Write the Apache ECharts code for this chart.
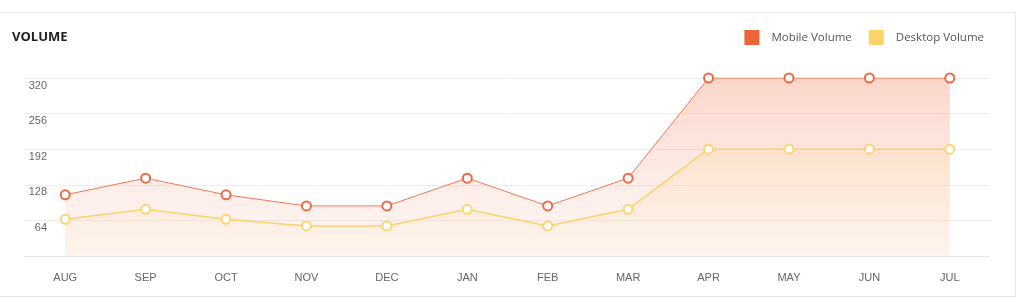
<!DOCTYPE html>
<html>
<head>
<meta charset="utf-8">
<script src="https://cdn.jsdelivr.net/npm/echarts@6/dist/echarts.min.js"></script>
<style>
html,body{margin:0;padding:0;background:#fff;}
#card{position:absolute;left:-1px;top:12px;width:1017px;height:285px;border:1px solid #e8e8e8;box-sizing:border-box;}
#chart{position:absolute;left:0;top:0;width:1024px;height:302px;}
</style>
</head>
<body>
<div id="card"></div>
<div id="chart"></div>
<script>
const categories = ['AUG','SEP','OCT','NOV','DEC','JAN','FEB','MAR','APR','MAY','JUN','JUL'];
const mobileVolume = [110, 140, 110, 90, 90, 140, 90, 140, 320, 320, 320, 320];
const desktopVolume = [66, 84, 66, 54, 54, 84, 54, 84, 192, 192, 192, 192];
const yTicks = [0, 64, 128, 192, 256, 320];
const seriesNames = ['Mobile Volume', 'Desktop Volume'];

const chart = echarts.init(document.getElementById('chart'));
chart.setOption({
  animation: false,
  title: {
    text: 'VOLUME', left: 7, top: 26,
    textStyle: {fontFamily: 'Open Sans', fontWeight: 'bold', fontSize: 13, color: '#222'}
  },
  legend: {
    right: 35, top: 25, itemWidth: 15, itemHeight: 15, itemGap: 17,
    icon: 'rect',
    textStyle: {fontFamily: 'Open Sans', fontSize: 11.5, color: '#555', padding: [0,0,0,7]},
    data: [
      {name: seriesNames[0], itemStyle: {color: '#ec6537', borderWidth: 0}},
      {name: seriesNames[1], itemStyle: {color: '#fdd26a', borderWidth: 0}}
    ]
  },
  grid: {left: 25, right: 34, top: 78, bottom: 46},
  xAxis: {
    type: 'category', data: categories, boundaryGap: true,
    axisLine: {lineStyle: {color: '#e6e6e6'}},
    axisTick: {show: false},
    axisLabel: {color: '#666', fontFamily: 'Liberation Sans', fontSize: 11, margin: 16}
  },
  yAxis: {
    type: 'value', min: 0, max: yTicks[yTicks.length-1], interval: 64,
    axisLine: {show: false}, axisTick: {show: false},
    splitLine: {lineStyle: {color: '#ececec'}},
    axisLabel: {
      color: '#666', fontFamily: 'Liberation Sans', fontSize: 11, margin: -22,
      align: 'right', verticalAlign: 'top', padding: [2,0,0,0],
      formatter: v => v === 0 ? '' : v
    }
  },
  series: [
    {
      name: seriesNames[0], type: 'line', data: mobileVolume,
      symbol: 'circle', symbolSize: 9, showAllSymbol: true,
      itemStyle: {color: '#ffffff', borderColor: '#ed6a43', borderWidth: 2},
      lineStyle: {color: '#ef7a55', width: 1},
      areaStyle: {color: new echarts.graphic.LinearGradient(0,0,0,1,[
        {offset: 0, color: 'rgba(246,155,128,0.6)'},
        {offset: 1, color: 'rgba(250,210,195,0.25)'}
      ])},
      z: 2
    },
    {
      name: seriesNames[1], type: 'line', data: desktopVolume,
      symbol: 'circle', symbolSize: 9, showAllSymbol: true,
      itemStyle: {color: '#ffffff', borderColor: '#fdd46e', borderWidth: 2},
      lineStyle: {color: '#fcd26a', width: 1.5},
      areaStyle: {color: new echarts.graphic.LinearGradient(0,0,0,1,[
        {offset: 0, color: 'rgba(253,215,165,0.45)'},
        {offset: 1, color: 'rgba(253,235,215,0.35)'}
      ])},
      z: 3
    }
  ]
});
</script>
</body>
</html>
